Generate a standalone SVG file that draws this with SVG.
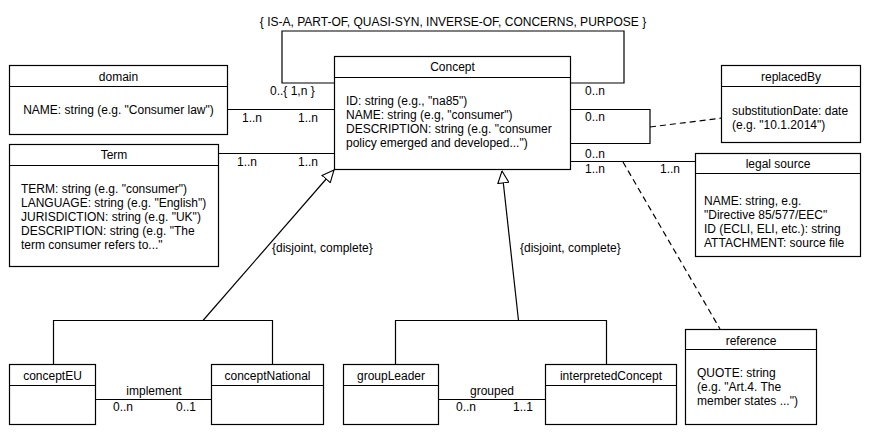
<svg xmlns="http://www.w3.org/2000/svg" width="871" height="441" viewBox="0 0 871 441">
<defs>
<style>
.box{fill:#fff;stroke:#000;stroke-width:1.2}
.ln{fill:none;stroke:#000;stroke-width:1.2}
.dash{fill:none;stroke:#000;stroke-width:1.2;stroke-dasharray:6,4}
text{font-family:"Liberation Sans",Arial,sans-serif;font-size:12px;fill:#000}
.c{text-anchor:middle}
</style>
<marker id="gen" markerUnits="userSpaceOnUse" viewBox="0 0 13 12" refX="12.5" refY="6" markerWidth="13" markerHeight="12" orient="auto">
<path d="M0.5,0.5 L12.5,6 L0.5,11.5 Z" fill="#fff" stroke="#000" stroke-width="1.1"/>
</marker>
</defs>
<rect width="871" height="441" fill="#fff"/>

<g id="connectors">
<!-- self loop -->
<path class="ln" d="M334,83 H282 V31 H624 V83 H571"/>
<text class="c" x="453" y="26">{ IS-A, PART-OF, QUASI-SYN, INVERSE-OF, CONCERNS, PURPOSE }</text>
<text x="270" y="95">0..{ 1,n }</text>
<text x="585" y="95">0..n</text>
<!-- replacedBy loop -->
<path class="ln" d="M571,109.5 H650 V143.5 H571"/>
<text x="585" y="121">0..n</text>
<text x="585" y="158">0..n</text>
<path class="dash" d="M650,127 L722,118"/>
<!-- domain -->
<path class="ln" d="M228,109.5 H334"/>
<text x="242" y="122">1..n</text>
<text x="298" y="122">1..n</text>
<!-- Term -->
<path class="ln" d="M219,153.5 H334"/>
<text x="237" y="166">1..n</text>
<text x="298" y="166">1..n</text>
<!-- legal source -->
<path class="ln" d="M571,161.5 H695"/>
<text x="585" y="173">1..n</text>
<text x="660" y="173">1..n</text>
<!-- reference -->
<path class="dash" d="M623,162 L720,329"/>
<!-- generalizations -->
<path class="ln" d="M53.5,364 V320.5 H272.5 V364"/>
<path class="ln" d="M203,320.5 L334,170" marker-end="url(#gen)"/>
<text x="272" y="252">{disjoint, complete}</text>
<path class="ln" d="M395.5,364 V320.5 H606.5 V364"/>
<path class="ln" d="M518.5,320.5 L502,171" marker-end="url(#gen)"/>
<text x="520" y="252">{disjoint, complete}</text>
<!-- implement -->
<path class="ln" d="M96,399.5 H212"/>
<text class="c" x="154" y="395">implement</text>
<text x="113" y="411">0..n</text>
<text x="176" y="411">0..1</text>
<!-- grouped -->
<path class="ln" d="M438,399.5 H546"/>
<text class="c" x="492" y="395">grouped</text>
<text x="456" y="411">0..n</text>
<text x="513" y="411">1..1</text>
</g>

<g id="concept">
<rect class="box" x="334.5" y="56.5" width="236" height="113"/>
<path class="ln" d="M334.5,77.5 H570.5"/>
<text class="c" x="452.5" y="71">Concept</text>
<text x="346" y="105">ID: string (e.g., "na85")</text>
<text x="346" y="119">NAME: string (e.g, "consumer")</text>
<text x="346" y="133">DESCRIPTION: string (e.g. "consumer</text>
<text x="346" y="147">policy emerged and developed...")</text>
</g>

<g id="domain">
<rect class="box" x="9.5" y="65.5" width="218" height="69"/>
<path class="ln" d="M9.5,86.5 H227.5"/>
<text class="c" x="118.5" y="81">domain</text>
<text class="c" x="118.5" y="114">NAME: string (e.g. "Consumer law")</text>
</g>

<g id="term">
<rect class="box" x="9.5" y="144.5" width="209" height="122"/>
<path class="ln" d="M9.5,165.5 H218.5"/>
<text class="c" x="114" y="159">Term</text>
<text x="21" y="193">TERM: string (e.g. "consumer")</text>
<text x="21" y="207">LANGUAGE: string (e.g. "English")</text>
<text x="21" y="221">JURISDICTION: string (e.g. "UK")</text>
<text x="21" y="235">DESCRIPTION: string (e.g. "The</text>
<text x="21" y="249">term consumer refers to..."</text>
</g>

<g id="replacedBy">
<rect class="box" x="721.5" y="65.5" width="139" height="77"/>
<path class="ln" d="M721.5,86.5 H860.5"/>
<text class="c" x="791" y="81">replacedBy</text>
<text x="732" y="115">substitutionDate: date</text>
<text x="732" y="129">(e.g. "10.1.2014")</text>
</g>

<g id="legalSource">
<rect class="box" x="695.5" y="153.5" width="165" height="103"/>
<path class="ln" d="M695.5,173.5 H860.5"/>
<text class="c" x="778" y="168">legal source</text>
<text x="704" y="205">NAME: string, e.g.</text>
<text x="704" y="219">"Directive 85/577/EEC"</text>
<text x="704" y="233">ID (ECLI, ELI, etc.): string</text>
<text x="704" y="247">ATTACHMENT: source file</text>
</g>

<g id="reference">
<rect class="box" x="685.5" y="329.5" width="131" height="95"/>
<path class="ln" d="M685.5,349.5 H816.5"/>
<text class="c" x="751" y="345">reference</text>
<text x="697" y="377">QUOTE: string</text>
<text x="697" y="391">(e.g. "Art.4. The</text>
<text x="697" y="405">member states ...")</text>
</g>

<g id="conceptEU">
<rect class="box" x="9.5" y="364.5" width="86" height="60"/>
<path class="ln" d="M9.5,385.5 H95.5"/>
<text class="c" x="52.5" y="380">conceptEU</text>
</g>

<g id="conceptNational">
<rect class="box" x="211.5" y="364.5" width="112" height="60"/>
<path class="ln" d="M211.5,385.5 H323.5"/>
<text class="c" x="267.5" y="380">conceptNational</text>
</g>

<g id="groupLeader">
<rect class="box" x="343.5" y="364.5" width="95" height="60"/>
<path class="ln" d="M343.5,385.5 H438.5"/>
<text class="c" x="391" y="380">groupLeader</text>
</g>

<g id="interpretedConcept">
<rect class="box" x="545.5" y="364.5" width="131" height="60"/>
<path class="ln" d="M545.5,385.5 H676.5"/>
<text class="c" x="611" y="380">interpretedConcept</text>
</g>
</svg>
